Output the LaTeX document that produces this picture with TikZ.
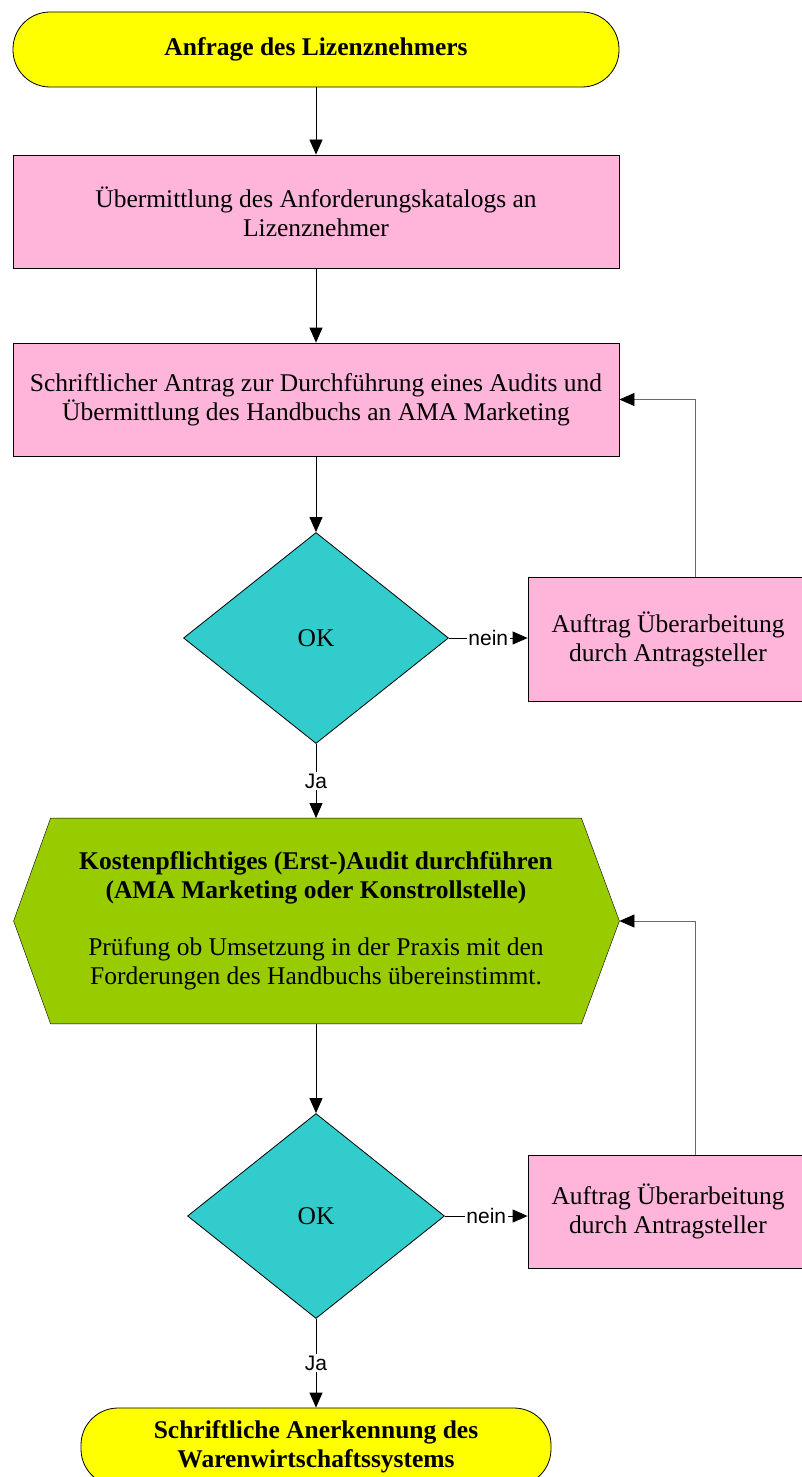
\documentclass[tikz,border=0pt]{standalone}
\usepackage{fontspec}
\setmainfont{Liberation Serif}
\newfontfamily\answerfont{Liberation Sans}
\usetikzlibrary{arrows.meta,calc,positioning,shapes.geometric,backgrounds}
\definecolor{flowyellow}{RGB}{255,255,0}
\definecolor{flowpink}{RGB}{255,181,218}
\definecolor{flowteal}{RGB}{51,204,204}
\definecolor{flowgreen}{RGB}{153,204,0}
\definecolor{flowgray}{RGB}{105,105,105}
\newcommand{\flowsize}{\fontsize{25.5}{29}\selectfont}

\begin{document}
\begin{tikzpicture}[x=1pt,y=-1pt,line width=.8pt,
 every node/.style={font=\flowsize,align=center,inner sep=0pt},
 terminal/.style={draw,fill=flowyellow,rounded corners=37pt,
  minimum width=606pt,minimum height=75pt,font=\flowsize\bfseries},
 taskbox/.style={draw,fill=flowpink,minimum width=606pt,minimum height=113pt},
 decision/.style={draw,fill=flowteal,diamond,aspect=1.25,
  minimum width=265pt,minimum height=211pt},
 fixbox/.style={draw,fill=flowpink,minimum width=280pt},
 answer/.style={fill=white,inner sep=1.5pt,
  font=\answerfont\fontsize{21}{23}\selectfont},
 flow/.style={-{Triangle[length=15pt,width=13pt]}},
 back/.style={flowgray,-{Triangle[length=15pt,width=13pt,color=black]}}]
 \useasboundingbox (0,0) rectangle (801,1477);
 % boxes
 \node[terminal] (start) at (316,49.5) {Anfrage des Lizenznehmers};
 \node[taskbox] (katalog) at (316,211.5)
  {Übermittlung des Anforderungskatalogs an\\Lizenznehmer};
 \node[taskbox] (antrag) at (316,399.5)
  {Schriftlicher Antrag zur Durchführung eines Audits und\\
   Übermittlung des Handbuchs an AMA Marketing};
 \node[decision] (check1) at (316,638) {OK};
 \node[fixbox,minimum height=124pt] (fix1) at (668,639.5)
  {Auftrag Überarbeitung\\durch Antragsteller};
 \node[minimum width=530pt,minimum height=205pt] (audit) at (316,921)
  {\textbf{Kostenpflichtiges (Erst-)Audit durchführen}\\
   \textbf{(AMA Marketing oder Konstrollstelle)}\\[28pt]
   Prüfung ob Umsetzung in der Praxis mit den\\
   Forderungen des Handbuchs übereinstimmt.};
 \coordinate (auditleft) at ($(audit.west)+(-37,0)$);
 \coordinate (auditright) at ($(audit.east)+(38,0)$);
 \begin{scope}[on background layer]
  \draw[fill=flowgreen] (audit.north west) -- (audit.north east)
   -- (auditright) -- (audit.south east) -- (audit.south west)
   -- (auditleft) -- cycle;
 \end{scope}
 \node[decision,minimum width=257pt,minimum height=205pt] (check2)
  at (316,1216) {OK};
 \node[fixbox,minimum height=113pt] (fix2) at (668,1211.5)
  {Auftrag Überarbeitung\\durch Antragsteller};
 \node[terminal,minimum width=470pt,minimum height=78pt] (ende)
  at (316,1447) {Schriftliche Anerkennung des\\Warenwirtschaftssystems};
 % connectors
 \draw[flow] (start) -- (katalog);
 \draw[flow] (katalog) -- (antrag);
 \draw[flow] (antrag) -- (check1);
 \draw[flow] (check1.east) -- node[answer] {nein} (fix1.west |- check1.east);
 \draw[flow] (check1) -- node[answer] {Ja} (audit.north);
 \coordinate (fix1up) at ($(fix1.north)+(27,0)$);
 \draw[back] (fix1up) |- (antrag.east);
 \draw[flow] (audit.south) -- (check2);
 \draw[flow] (check2.east) -- node[answer] {nein} (fix2.west |- check2.east);
 \draw[flow] (check2) -- node[answer] {Ja} (ende);
 \coordinate (fix2up) at ($(fix2.north)+(27,0)$);
 \draw[back] (fix2up) |- (auditright);
\end{tikzpicture}
\end{document}
